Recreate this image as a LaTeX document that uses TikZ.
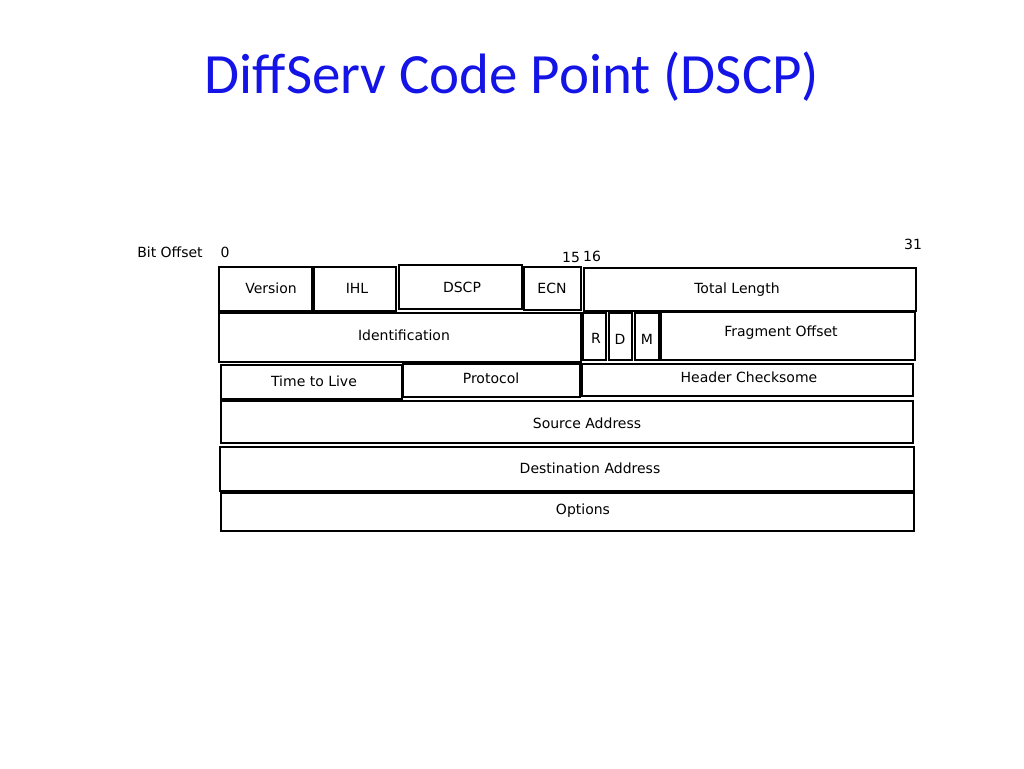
\documentclass[tikz,border=0pt]{standalone}
\usepackage{fontspec}
\setmainfont{DejaVu Sans}
\newfontfamily\titlefont{Carlito}
\definecolor{titleblue}{RGB}{20,20,230}
\begin{document}
\begin{tikzpicture}[x=0.75pt,y=-0.75pt,
  fld/.style={draw=black,line width=2.1pt},
  lbl/.style={font=\fontsize{10.5}{12}\selectfont,inner sep=0pt},
  ttl/.style={font=\titlefont\fontsize{42.7}{48}\selectfont,text=titleblue,inner sep=0pt}]
\useasboundingbox[fill=white] (0,0) rectangle (1024,768);
\node[ttl] (title) at (512,77) {DiffServ Code Point (DSCP)};
% row 1
\draw[fld] (219,267) rectangle (312,311); \node[lbl] (ver) at (271,288) {Version};
\draw[fld] (314,267) rectangle (396,311); \node[lbl] (ihl) at (357,288) {IHL};
\draw[fld] (399,265) rectangle (522,309); \node[lbl] (dscp) at (462,287) {DSCP};
\draw[fld] (524,267) rectangle (581,310); \node[lbl] (ecn) at (552,288) {ECN};
\draw[fld] (584,268) rectangle (916,311); \node[lbl] (tl) at (737,290) {Total Length};
% row 2
\draw[fld] (219,313) rectangle (581,362); \node[lbl] (id) at (404,335) {Identification};
\draw[fld] (583,313) rectangle (606,360); \node[lbl] (r) at (596,338) {R};
\draw[fld] (609,313) rectangle (632,360); \node[lbl] (d) at (620,339) {D};
\draw[fld] (635,313) rectangle (659,360); \node[lbl] (m) at (647,339) {M};
\draw[fld] (661,312) rectangle (915,360); \node[lbl] (fo) at (781,333) {Fragment Offset};
% row 3
\draw[fld] (221,365) rectangle (402,399); \node[lbl] (ttlv) at (314,381) {Time to Live};
\draw[fld] (403,364) rectangle (580,397); \node[lbl] (proto) at (491,378) {Protocol};
\draw[fld] (582,364) rectangle (913,396); \node[lbl] (hc) at (749,377) {Header Checksome};
% rows 4-6
\draw[fld] (221,401) rectangle (913,443); \node[lbl] (src) at (587,423) {Source Address};
\draw[fld] (220,447) rectangle (914,491); \node[lbl] (dst) at (590,468) {Destination Address};
\draw[fld] (221,493) rectangle (914,531); \node[lbl] (opt) at (583,511) {Options};
% offsets
\node[lbl] (bo) at (170,252) {Bit Offset};
\node[lbl] (b0) at (225,252) {0};
\node[lbl] (b15) at (571,257) {15};
\node[lbl] (b16) at (592,256) {16};
\node[lbl] (b31) at (913,244) {31};
\end{tikzpicture}
\end{document}
